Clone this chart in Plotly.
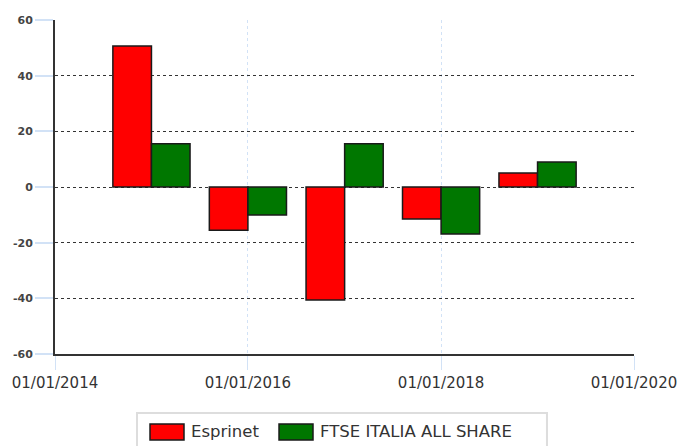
import plotly.graph_objects as go

dates = ["2015-01-01", "2016-01-01", "2017-01-01", "2018-01-01", "2019-01-01"]
esprinet = [50.7, -15.5, -40.6, -11.5, 5.0]
ftse = [15.5, -10.1, 15.5, -16.9, 9.0]
tick_vals = ["2014-01-01", "2016-01-01", "2018-01-01", "2020-01-01"]
tick_text = ["01/01/2014", "01/01/2016", "01/01/2018", "01/01/2020"]
y_ticks = [-60, -40, -20, 0, 20, 40, 60]
y_tick_text = ["-60", "-40", "-20", "0", "20", "40", "60"]
series_names = ["Esprinet", "FTSE ITALIA ALL SHARE"]
colors = ["#ff0000", "#007700"]

fig = go.Figure()
for name, vals, col in zip(series_names, [esprinet, ftse], colors):
    fig.add_trace(go.Bar(x=dates, y=vals, name=name, marker=dict(color=col, line=dict(color="#1a1a1a", width=1.5))))

fig.update_layout(
    width=678, height=446,
    margin=dict(l=55, r=44, t=20, b=92),
    paper_bgcolor="white", plot_bgcolor="white",
    barmode="group", bargap=0.2, bargroupgap=0,
    showlegend=False,
    font=dict(family="DejaVu Sans", color="#333"),
)
fig.update_xaxes(
    type="date", range=["2014-01-01", "2020-01-01"],
    tickvals=tick_vals, ticktext=tick_text, automargin=False,
    tickfont=dict(size=15, color="#333"),
    showgrid=True, gridcolor="#d2e2f6", griddash="dot", gridwidth=1,
    ticks="outside", ticklen=14, tickcolor="#d2e2f6",
    showline=True, linecolor="#333", linewidth=2,
)
fig.update_yaxes(
    range=[-60, 60], tickvals=y_ticks, ticktext=y_tick_text, automargin=False,
    tickfont=dict(size=11, color="#444", weight="bold"),
    showgrid=True, gridcolor="#333", griddash="dot", gridwidth=1,
    zeroline=False,
    ticks="outside", ticklen=18, tickcolor="#d2e2f6", tickwidth=2,
    showline=True, linecolor="#333", linewidth=2,
)

# legend box drawn in paper coordinates
fig.add_shape(type="rect", xref="paper", yref="paper", x0=0.1416, x1=0.8497, y0=-0.32, y1=-0.1766,
              line=dict(color="#dddddd", width=2), fillcolor="white", layer="above")
legend_pos = [(0.1641, 0.2228, 0.2314), (0.3869, 0.4456, 0.4542)]
for (x0, x1, tx), name, col in zip(legend_pos, series_names, colors):
    fig.add_shape(type="rect", xref="paper", yref="paper", x0=x0, x1=x1, y0=-0.2575, y1=-0.2096,
                  line=dict(color="#1a1a1a", width=1.5), fillcolor=col, layer="above")
    fig.add_annotation(xref="paper", yref="paper", x=tx, y=-0.2335, text=name, showarrow=False,
                       xanchor="left", yanchor="middle", font=dict(size=16.5, color="#333"))

fig.write_html("out.html", config={"displayModeBar": False},
               post_script="document.body.style.margin='0';document.body.style.overflow='hidden';")
